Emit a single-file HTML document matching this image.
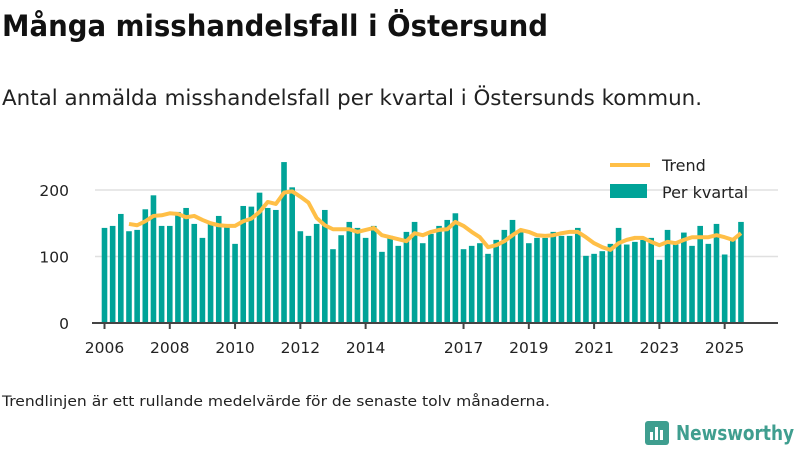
<!DOCTYPE html>
<html><head><meta charset="utf-8"><style>
body{margin:0;background:#fff;}
svg{display:block;font-family:"DejaVu Sans","Liberation Sans",sans-serif;}
</style></head><body>
<svg id="c" width="800" height="450" viewBox="0 0 800 450">
<text x="2" y="36" font-size="29" font-weight="bold" fill="#111" textLength="546" lengthAdjust="spacingAndGlyphs">Många misshandelsfall i Östersund</text>
<text x="2" y="105" font-size="21" fill="#222" textLength="700" lengthAdjust="spacingAndGlyphs">Antal anmälda misshandelsfall per kvartal i Östersunds kommun.</text>
<g id="grid"></g><g id="bars"></g><g id="trend"></g><g id="axis"></g>
<g>
<line x1="610" y1="165" x2="650" y2="165" stroke="#ffbf47" stroke-width="4"/>
<text x="662" y="171" font-size="16" fill="#222">Trend</text>
<rect x="610" y="184" width="37" height="14" fill="#00a398"/>
<text x="662" y="198" font-size="16" fill="#222">Per kvartal</text>
</g>
<text x="2" y="406" font-size="14" fill="#222" textLength="548" lengthAdjust="spacingAndGlyphs">Trendlinjen är ett rullande medelvärde för de senaste tolv månaderna.</text>
<g>
<rect x="645" y="421" width="24" height="24" rx="3" fill="#3f9e8f"/>
<rect x="650" y="432" width="3" height="8" fill="#fff"/><rect x="655" y="427" width="3" height="13" fill="#fff"/><rect x="660" y="430" width="3" height="10" fill="#fff"/>
<text x="676" y="440" font-size="20" font-weight="bold" fill="#3f9e8f" textLength="118" lengthAdjust="spacingAndGlyphs">Newsworthy</text>
</g>
</svg>
<script>
const years=[2006,2008,2010,2012,2014,2017,2019,2021,2023,2025];
const yTicks=[0,100,200];
const quarterly=[143,146,164,138,140,171,192,146,146,167,173,149,128,149,161,146,119,176,175,196,173,170,242,204,138,131,149,170,111,132,152,143,128,146,107,131,116,137,152,120,134,146,155,165,111,116,120,104,125,140,155,137,120,128,128,137,131,131,143,101,104,108,119,143,118,122,125,128,95,140,118,136,116,146,119,149,103,125,152];
const trend=[null,null,null,149,147,153,161,162,165,164,159,161,155,150,147,146,146,153,157,167,182,179,196,198,190,181,158,147,141,141,141,137,140,143,132,129,126,123,135,132,137,140,141,152,146,137,129,114,117,123,132,140,137,132,131,132,135,137,137,129,120,114,110,120,125,128,128,122,117,122,120,125,129,129,129,132,129,125,135];
const NS="http://www.w3.org/2000/svg";
const x=i=>104.5+i*8.16;
const y=v=>323-v*0.665;
const grid=document.getElementById('grid'),bars=document.getElementById('bars'),tr=document.getElementById('trend'),ax=document.getElementById('axis');
function mk(t,a,p){const e=document.createElementNS(NS,t);for(const k in a)e.setAttribute(k,a[k]);p.appendChild(e);return e;}
yTicks.forEach(v=>{
 if(v>0){const l=mk('line',{x1:95,x2:778,y1:y(v),y2:y(v),stroke:'#e0e0e0','stroke-width':1.5},grid);
 
 }
 const t=mk('text',{x:69,y:y(v)+6,'text-anchor':'end','font-size':15.5,fill:'#222'},grid);t.textContent=v;
 
 
});
quarterly.forEach((v,i)=>{
 const r=mk('rect',{x:x(i)-2.8,y:y(v),width:5.6,height:323-y(v),fill:'#00a398'},bars);
 
 
});
let d='';trend.forEach((v,i)=>{if(v!=null)d+=(d?'L':'M')+x(i)+','+y(v);});
const p=mk('path',{d:d,fill:'none',stroke:'#ffbf47','stroke-width':4,'stroke-linejoin':'round'},tr);


const al=mk('line',{x1:92,x2:778,y1:323,y2:323,stroke:'#444','stroke-width':2},ax);


years.forEach(yr=>{
 const i=(yr-2006)*4;
 const tk=mk('line',{x1:x(i),x2:x(i),y1:323,y2:329,stroke:'#444','stroke-width':2},ax);
 
 
 const t=mk('text',{x:x(i),y:353,'text-anchor':'middle','font-size':15.5,fill:'#222'},ax);t.textContent=yr;
 
 
});
</script>
</body></html>
